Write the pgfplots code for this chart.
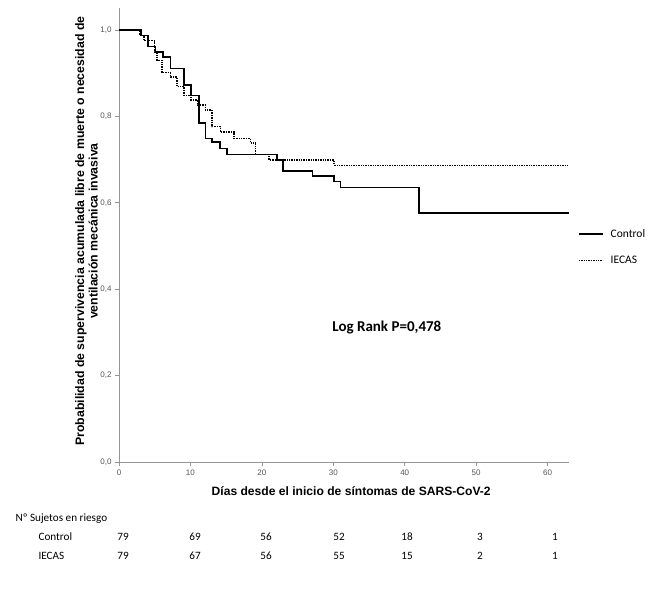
\documentclass[border=0pt]{standalone}
\usepackage{fontspec}
\setmainfont{Liberation Sans}
\newfontfamily\calibri{Carlito}
\usepackage{pgfplots}
\pgfplotsset{compat=1.18}

\definecolor{axisgray}{RGB}{150,150,150}
\definecolor{labgray}{RGB}{85,85,85}

\begin{document}
\begin{tikzpicture}[x=1pt,y=1pt]
\useasboundingbox (0,0) rectangle (659,-597);
\begin{axis}[
    at={(119pt,-462pt)}, anchor=south west,
    scale only axis, width=450pt, height=453.6pt,
    xmin=0, xmax=63, ymin=0, ymax=1.05,
    axis x line*=bottom, axis y line*=left,
    axis line style={axisgray, line width=0.7pt, -},
    xtick={0,10,20,30,40,50,60},
    ytick={0,0.2,0.4,0.6,0.8,1},
    tick style={axisgray, line width=0.7pt},
    tick align=outside, major tick length=4pt,
    ticklabel style={font=\fontsize{8}{9}\selectfont, text=labgray},
    /pgf/number format/assume math mode=true,
    yticklabel style={/pgf/number format/fixed, /pgf/number format/fixed zerofill,
        /pgf/number format/precision=1, /pgf/number format/use comma},
    xlabel={Días desde el inicio de síntomas de SARS-CoV-2},
    xlabel style={at={(axis description cs:0.516,-0.064)}, anchor=center,
        font=\bfseries\fontsize{12.1}{14}\selectfont},
    ylabel={Probabilidad de supervivencia acumulada libre de muerte o necesidad de\\ventilación mecánica invasiva},
    ylabel style={at={(axis description cs:-0.0722,0.509)}, anchor=center, align=center,
        font=\bfseries\fontsize{12.3}{13.5}\selectfont},
    legend style={at={(axis description cs:1.013,0.522)}, anchor=north west, draw=none,
        fill=none, font=\calibri\fontsize{11.5}{13}\selectfont, row sep=13pt,
        /tikz/every odd column/.append style={column sep=5pt}},
    legend cell align=left,
    legend image code/.code={\draw[#1] (0pt,0pt) -- (24pt,0pt);},
    clip=false,
]
% Control
\addplot[const plot, black, line width=1.6pt] coordinates {
  (0,1.000) (3.1,0.987) (4.1,0.962) (5.1,0.949) (6.2,0.937) (7.2,0.911)
  (9.1,0.873) (10.1,0.848) (11.2,0.785) (12.1,0.749) (13.0,0.741)
  (14.1,0.726) (15.1,0.712) (22.1,0.699) (23.0,0.673) (27.1,0.662)
  (30.1,0.649) (31.0,0.635) (42.0,0.577) (63.0,0.577)
};
% IECAS
\addplot[const plot, black, line width=1.4pt, densely dotted] coordinates {
  (0,1.000) (2.9,0.987) (3.5,0.975) (5.0,0.949) (5.3,0.930) (6.0,0.902)
  (7.2,0.891) (8.1,0.869) (9.1,0.849) (10.1,0.838) (11.0,0.826)
  (12.1,0.815) (13.0,0.776) (14.2,0.764) (16.1,0.749) (18.4,0.738)
  (19.1,0.712) (21.0,0.699) (30.1,0.687) (63.0,0.687)
};
\legend{Control, IECAS}
\node[font=\calibri\bfseries\fontsize{15}{17}\selectfont] at (axis cs:37.5,0.312) {Log Rank P=0,478};
\end{axis}

\begin{scope}[font=\calibri\fontsize{11.2}{13}\selectfont]
\node[anchor=west] at (12,-519) {Nº Sujetos en riesgo};
\node[anchor=west] at (35,-537) {Control};
\node[anchor=west] at (35,-556) {IECAS};
\foreach \x/\a/\b in {123/79/79, 195/69/67, 266/56/56, 339/52/55, 407/18/15, 480/3/2, 555/1/1} {
  \node at (\x,-537) {\a};
  \node at (\x,-556) {\b};
}
\end{scope}
\end{tikzpicture}
\end{document}
